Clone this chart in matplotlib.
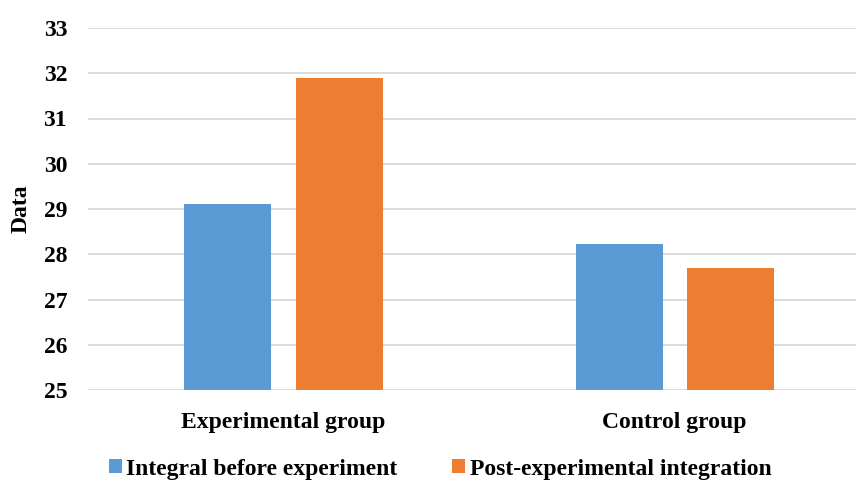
import matplotlib
matplotlib.use("Agg")
import matplotlib.pyplot as plt
import numpy as np

categories = ["Experimental group", "Control group"]
series_names = ["Integral before experiment", "Post-experimental integration"]
before = [29.1, 28.22]
after = [31.9, 27.7]
colors = ["#5B9BD5", "#ED7D31"]
yticks = [25, 26, 27, 28, 29, 30, 31, 32, 33]

plt.rcParams['font.family'] = ['Liberation Serif', 'DejaVu Serif']
plt.rcParams['font.weight'] = 'bold'

fig = plt.figure(figsize=(8.56, 4.82), dpi=100)
ax = fig.add_axes([88/856, 1 - 390/482, 1 - 88/856, (390 - 28)/482])

x = np.arange(len(categories))
w = 0.2225
off = 0.142
ax.bar(x - off, before, w, color=colors[0], label=series_names[0], zorder=3)
ax.bar(x + off, after, w, color=colors[1], label=series_names[1], zorder=3)

ax.set_ylim(25, 33)
ax.set_xlim(-0.5, 1.464)
ax.set_yticks(yticks)
ax.set_yticklabels([str(t) for t in yticks], fontsize=17, fontweight='bold')
ax.set_xticks(x)
ax.set_xticklabels(categories, fontsize=17, fontweight='bold')
ax.tick_params(axis='both', length=0)
ax.tick_params(axis='y', pad=15)
ax.tick_params(axis='x', pad=16)
ax.grid(axis='y', color='#d9d9d9', linewidth=1.3, zorder=0)
for s in ['top', 'right', 'left', 'bottom']:
    ax.spines[s].set_visible(False)
fig.text(21/856, 1 - 209/482, "Data", rotation=90, ha='center', va='center', fontsize=17, fontweight='bold')

leg = fig.legend(loc='center', bbox_to_anchor=(440/856, 1 - 469/482), ncol=2, frameon=False,
                 prop={'weight': 'bold', 'size': 17}, handlelength=0.55, handleheight=0.55,
                 handletextpad=0.2, columnspacing=2.3)

fig.savefig("out.png", dpi=100)
